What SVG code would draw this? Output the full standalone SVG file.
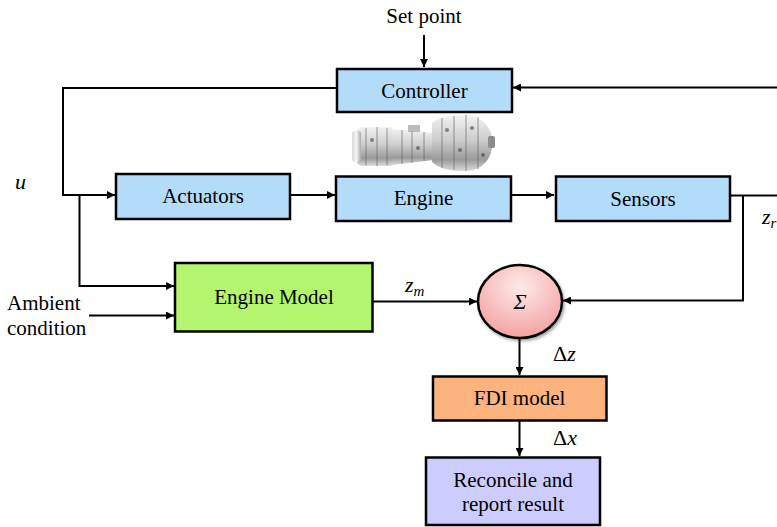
<svg xmlns="http://www.w3.org/2000/svg" width="777" height="527" viewBox="0 0 777 527">
<defs>
<style>
.box{stroke:#000;stroke-width:2.5}
.blue{fill:#b3dcfb}
text{font-family:'Liberation Serif','DejaVu Serif',serif;fill:#000}
.lbl{font-size:21px}
.math{font-style:italic;font-size:22px}
.up{font-style:normal}
.sub{font-style:italic;font-size:15px}
.wire{fill:none;stroke:#000;stroke-width:2}
</style>
<marker id="ah" viewBox="0 0 10 10" refX="10" refY="5" markerWidth="10" markerHeight="8" markerUnits="userSpaceOnUse" orient="auto">
<path d="M0,0 L10,5 L0,10 z" fill="#000"/>
</marker>
<radialGradient id="pink" cx="0.5" cy="0.3" r="0.75">
<stop offset="0" stop-color="#fdeaea"/>
<stop offset="1" stop-color="#f49c9c"/>
</radialGradient>
<linearGradient id="metal" x1="0" y1="0" x2="0" y2="1">
<stop offset="0" stop-color="#f2f2f2"/>
<stop offset="0.45" stop-color="#cdcdcd"/>
<stop offset="0.8" stop-color="#9a9a9a"/>
<stop offset="1" stop-color="#dcdcdc"/>
</linearGradient>
<linearGradient id="metal2" x1="0" y1="0" x2="1" y2="0">
<stop offset="0" stop-color="#d8d8d8"/>
<stop offset="0.5" stop-color="#f4f4f4"/>
<stop offset="1" stop-color="#a8a8a8"/>
</linearGradient>
<filter id="sh" x="-20%" y="-20%" width="140%" height="140%">
<feDropShadow dx="1.5" dy="2" stdDeviation="1.5" flood-color="#000" flood-opacity="0.35"/>
</filter>
</defs>
<rect width="777" height="527" fill="#fff"/>

<g id="connectors">
<path class="wire" d="M424,35 V67" marker-end="url(#ah)"/>
<path class="wire" d="M336,88 H63 V195 H115" marker-end="url(#ah)"/>
<path class="wire" d="M79.5,195 V286 H174" marker-end="url(#ah)"/>
<path class="wire" d="M89,315.5 H174" marker-end="url(#ah)"/>
<path class="wire" d="M290,195 H335" marker-end="url(#ah)"/>
<path class="wire" d="M511,195 H554" marker-end="url(#ah)"/>
<path class="wire" d="M730,195.5 H777"/>
<path class="wire" d="M777,87.5 H513" marker-end="url(#ah)"/>
<path class="wire" d="M743,195.5 V300.5 H563" marker-end="url(#ah)"/>
<path class="wire" d="M373,301.5 H477" marker-end="url(#ah)"/>
<path class="wire" d="M519.5,338 V375" marker-end="url(#ah)"/>
<path class="wire" d="M519.5,421 V456" marker-end="url(#ah)"/>
</g>

<g id="setpoint"><text class="lbl" x="424" y="23" text-anchor="middle">Set point</text></g>

<g id="controller">
<rect class="box blue" x="337" y="69" width="175" height="43"/>
<text class="lbl" x="424.5" y="98" text-anchor="middle">Controller</text>
</g>

<g id="engine-picture">
<rect x="356" y="127" width="40" height="39" rx="7" fill="url(#metal)"/>
<rect x="352" y="131" width="9" height="31" rx="3" fill="url(#metal2)"/>
<path d="M392,129 L434,133 L434,160 L392,165 z" fill="url(#metal)"/>
<rect x="408" y="125" width="12" height="7" fill="#bdbdbd"/>
<path d="M432,123 Q442,114 468,115 Q490,118 493,142 Q491,168 468,171 Q442,172 432,162 z" fill="url(#metal)"/>
<rect x="488" y="136" width="7" height="12" rx="2" fill="#8c8c8c"/>
<g stroke="#5a5a5a" stroke-width="1" opacity="0.6">
<line x1="366" y1="128" x2="366" y2="165"/>
<line x1="377" y1="127" x2="377" y2="166"/>
<line x1="387" y1="128" x2="387" y2="165"/>
<line x1="402" y1="130" x2="402" y2="164"/>
<line x1="412" y1="131" x2="412" y2="163"/>
<line x1="424" y1="132" x2="424" y2="161"/>
<line x1="442" y1="118" x2="442" y2="168"/>
<line x1="454" y1="116" x2="454" y2="170"/>
<line x1="466" y1="115" x2="466" y2="171"/>
<line x1="478" y1="117" x2="478" y2="169"/>
</g>
<g fill="#444" opacity="0.6">
<circle cx="447" cy="130" r="2"/><circle cx="460" cy="150" r="2"/><circle cx="472" cy="128" r="2"/>
<circle cx="418" cy="148" r="2"/><circle cx="372" cy="140" r="2"/><circle cx="483" cy="155" r="2"/>
</g>
</g>

<g id="actuators">
<rect class="box blue" x="116" y="174" width="174" height="45"/>
<text class="lbl" x="203" y="203" text-anchor="middle">Actuators</text>
</g>

<g id="engine">
<rect class="box blue" x="336" y="176.5" width="175" height="44.5"/>
<text class="lbl" x="423.5" y="205" text-anchor="middle">Engine</text>
</g>

<g id="sensors">
<rect class="box blue" x="556" y="176.5" width="174" height="44.5"/>
<text class="lbl" x="643" y="206" text-anchor="middle">Sensors</text>
</g>

<g id="engine-model">
<rect class="box" x="175" y="263" width="197.5" height="68.5" fill="#b4f56e"/>
<text class="lbl" x="274" y="304" text-anchor="middle">Engine Model</text>
</g>

<g id="ambient">
<text class="lbl" x="7" y="310">Ambient</text>
<text class="lbl" x="7" y="335">condition</text>
</g>

<g id="sum">
<ellipse cx="520" cy="301.5" rx="42" ry="36.5" fill="url(#pink)" stroke="#000" stroke-width="2.5" filter="url(#sh)"/>
<text class="math" x="520" y="309" text-anchor="middle">Σ</text>
</g>

<g id="fdi">
<rect class="box" x="433" y="376.5" width="173.5" height="44" fill="#fcb37d"/>
<text class="lbl" x="519.5" y="405" text-anchor="middle">FDI model</text>
</g>

<g id="reconcile">
<rect class="box" x="426" y="457.5" width="174" height="67.5" fill="#ccccfe"/>
<text class="lbl" x="513" y="487" text-anchor="middle">Reconcile and</text>
<text class="lbl" x="513" y="511" text-anchor="middle">report result</text>
</g>

<g id="labels">
<text class="math" x="15" y="189">u</text>
<text class="math" x="405" y="292">z<tspan class="sub" dy="4">m</tspan></text>
<text class="math" x="762" y="224">z<tspan class="sub" dy="4">r</tspan></text>
<text class="math" x="553" y="361"><tspan class="up">Δ</tspan>z</text>
<text class="math" x="553" y="445"><tspan class="up">Δ</tspan>x</text>
</g>
</svg>
